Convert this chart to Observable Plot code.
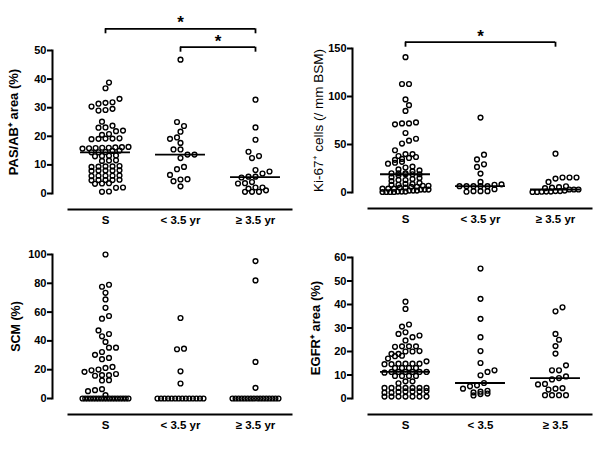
<!DOCTYPE html>
<html><head><meta charset="utf-8">
<script src="https://cdn.jsdelivr.net/npm/d3@7"></script>
<script src="https://cdn.jsdelivr.net/npm/@observablehq/plot@0.6"></script>
<style>
body{margin:0;background:#fff}
#grid{display:grid;grid-template-columns:300px 300px;width:600px;height:450px;background:#fff}
#grid svg{display:block;background:transparent;overflow:visible}
</style>
</head><body><div id="grid"></div>
<script>
// ---------- categories & ticks ----------
const groupsYr = ["S", "< 3.5 yr", "≥ 3.5 yr"];
const groupsEgfr = ["S", "< 3.5", "≥ 3.5"];
const pasTicks = [0, 10, 20, 30, 40, 50];
const ki67Ticks = [0, 50, 100, 150];
const scmTicks = [0, 20, 40, 60, 80, 100];
const egfrTicks = [0, 10, 20, 30, 40, 50, 60];

// ---------- PAS/AB+ area (%) ----------
const pasS = [38.8, 36.8, 33.1, 31.9, 31.7, 31.4, 30.4, 29.6, 29.2, 29.0, 25.1, 23.7, 23.1, 23.0, 22.0, 21.8, 20.8, 20.5,
  19.3, 19.2, 19.1, 19.0, 19.2, 16.3, 16.2, 16.0, 16.1, 15.9, 15.8, 16.0, 15.7, 15.0, 14.9, 14.5, 14.4, 14.4,
  13.2, 13.0, 13.1, 13.3, 11.6, 11.5, 11.4, 9.6, 9.5, 9.4, 9.3, 9.5, 8.0, 8.1, 7.9, 8.0, 8.0, 6.2, 6.3, 6.1, 6.2, 6.2,
  4.7, 4.8, 4.6, 4.7, 4.7, 3.5, 3.6, 3.4, 2.1, 2.0, 0.7, 0.6];
const pasYoung = [46.8, 25.0, 23.6, 21.6, 19.6, 19.1, 17.7, 15.4, 15.4, 13.6, 13.6, 12.4, 9.3, 8.5, 6.5, 5.0, 4.9, 4.3, 2.5];
const pasOld = [32.8, 23.1, 18.8, 14.6, 13.1, 12.4, 8.2, 7.7, 7.0, 5.9, 5.9, 5.6, 4.0, 3.6, 3.5, 2.1, 1.7, 0.6, 0.6, 0.6, 1.1, 2.1];

// ---------- Ki-67+ cells (/ mm BSM) ----------
const ki67S = [141, 113, 113, 97, 91, 85, 73, 72, 72, 71, 62, 56, 54, 51, 44, 40, 40, 38, 37, 36,
  35, 34, 32, 31, 30, 27, 26, 24, 23, 22, 20, 20, 20, 19, 19, 19, 18, 16, 15, 14,
  13, 13, 12, 10, 9, 9, 8, 8, 7, 7, 6, 6, 5, 5, 4, 4, 4, 3, 3, 3, 2, 2, 2, 1, 1, 1, 0.5, 0.5, 0.5, 0.5];
const ki67Young = [78, 39.4, 34.5, 29.4, 26.6, 19.7, 11, 8.5, 8, 6.6, 6.6, 6.6, 6.6, 6.6, 3.4, 1.4, 1.4, 1.4, 0.8];
const ki67Old = [40.4, 15.6, 15.6, 14.5, 15.6, 11, 6.5, 5.5, 5, 4.5, 3.1, 3.1, 3.1, 2, 1.5, 1.5, 1, 1, 0.8, 0.5, 0.5];

// ---------- SCM (%) ----------
const scmS = [100, 79, 77.6, 73.4, 68.8, 63, 57.3, 55.4, 47.3, 44.8, 43.2, 39.3, 35.3, 35.3, 32.3, 30.3, 28.2, 27.3,
  21.9, 21.2, 20.1, 19.6, 18.5, 17, 16.2, 16.2, 15.8, 12.7, 12.5, 6.5, 5.8, 5.1, 2.3,
  0, 0, 0, 0, 0, 0, 0, 0, 0, 0, 0, 0, 0, 0, 0, 0, 0, 0];
const scmYoung = [55.9, 34.6, 34.2, 18.9, 10.4, 0, 0, 0, 0, 0, 0, 0, 0, 0, 0, 0, 0, 0, 0];
const scmOld = [95.4, 82, 25.4, 7.4, 0, 0, 0, 0, 0, 0, 0, 0, 0, 0, 0, 0, 0, 0, 0, 0];

// ---------- EGFR+ area (%) ----------
const egfrS = [41.2, 38.1, 31.5, 30.6, 28.2, 27.5, 26.8, 26.1, 24.7, 22.2, 22.2, 22.2, 22.0, 20.2, 20.0, 20.0, 19.0, 19.0, 18.2, 18.0,
  17.0, 15.8, 14.8, 14.8, 14.8, 14.6, 14.6, 14.8, 13.0, 13.0, 13.0, 13.0, 11.3, 11.3, 11.3, 11.3, 11.3, 11.3, 11.0, 9.6,
  9.6, 9.6, 9.6, 7.3, 7.3, 6.5, 4.5, 4.5, 4.5, 4.5, 4.5, 4.5, 4.5, 3.2, 3.0, 3.0, 2.8, 3.0, 2.5, 2.5,
  0.8, 0.8, 0.8, 0.8, 0.8, 0.8, 0.8];
const egfrYoung = [55.3, 42.4, 33.9, 26.1, 20.2, 15.1, 12.0, 11.3, 9.9, 6.6, 5.2, 5.6, 4.2, 2.9, 2.1, 1.3, 1.9, 2.6, 3.3];
const egfrOld = [38.8, 37.1, 27.5, 25.0, 22.3, 19.1, 14.1, 12.0, 12.0, 9.4, 8.7, 8.1, 6.0, 6.2, 4.2, 3.8, 4.4, 1.4, 1.4, 1.4, 1.4];

// ---------- layout helpers ----------
const W = 300, H = 225, BAND = 75, ML = 52, XR = [67.5, 292.5];
const D = 7, MAXW = 46;

// GraphPad-like scatter: points in the same row are spread symmetrically
function swarm(vals, ppu) {
  const sorted = vals.map(v => ({v})).sort((a, b) => a.v - b.v);
  const rows = [];
  for (const p of sorted) {
    const last = rows[rows.length - 1];
    if (last && (p.v - last[0].v) * ppu < 3) last.push(p); else rows.push([p]);
  }
  const placed = [];
  for (const row of rows) {
    const n = row.length;
    const sp = n > 1 ? Math.min(D, MAXW / (n - 1)) : 0;
    const base = row.map((p, k) => (k - (n - 1) / 2) * sp);
    const half = (n - 1) * sp / 2;
    const shifts = [0, D / 2, -D / 2, D, -D, 1.5 * D, -1.5 * D, 2 * D, -2 * D, 2.5 * D, -2.5 * D, 3 * D, -3 * D];
    let chosen = 0;
    for (const s of shifts) {
      if (Math.abs(s) + half > MAXW / 2 + 0.01) continue;
      const ok = row.every((p, k) => placed.every(q => {
        const dx = base[k] + s - q.off, dy = (p.v - q.v) * ppu;
        return dx * dx + dy * dy >= (D * 0.92) ** 2;
      }));
      if (ok) { chosen = s; break; }
    }
    row.forEach((p, k) => placed.push({v: p.v, off: base[k] + chosen}));
  }
  return placed;
}

const panels = [
  {groups: groupsYr, data: [pasS, pasYoung, pasOld], yMax: 50, ticks: pasTicks, median: true,
   label: "PAS/AB⁺ area (%)", labelSize: 13, labelWeight: "bold", labelDx: -39,
   mt: 50, mb: 32, sig: [{a: 0, b: 2, up: 21.7}, {a: 1, b: 2, up: 3.3}]},
  {groups: groupsYr, data: [ki67S, ki67Young, ki67Old], yMax: 150, ticks: ki67Ticks, median: true,
   label: "Ki-67⁺ cells (/ mm BSM)", labelSize: 13.5, labelWeight: "normal", labelDx: -34,
   mt: 48, mb: 33, sig: [{a: 0, b: 2, up: 6.3}]},
  {groups: groupsYr, data: [scmS, scmYoung, scmOld], yMax: 100, ticks: scmTicks, median: false,
   label: "SCM (%)", labelSize: 12.5, labelWeight: "bold", labelDx: -37,
   mt: 29, mb: 52, sig: []},
  {groups: groupsEgfr, data: [egfrS, egfrYoung, egfrOld], yMax: 60, ticks: egfrTicks, median: true,
   label: "EGFR⁺ area (%)", labelSize: 13, labelWeight: "bold", labelDx: -37,
   mt: 32, mb: 52, sig: []}
];

const grid = document.getElementById("grid");
for (const P of panels) {
  const ppu = (H - P.mt - P.mb) / P.yMax;
  const pts = [];
  P.data.forEach((vals, gi) => swarm(vals, ppu).forEach(p => pts.push({x: gi + p.off / BAND, y: p.v})));
  const meds = P.median ? P.data.map((vals, gi) => ({g: gi, m: d3.median(vals)})) : [];
  const sigRows = P.sig.map(s => ({...s, yb: P.yMax + s.up / ppu, ye: P.yMax + (s.up - 5) / ppu}));
  const sigEnds = sigRows.flatMap(s => [{x: s.a, y1: s.ye, y2: s.yb}, {x: s.b, y1: s.ye, y2: s.yb}]);
  const svg = Plot.plot({
    width: W, height: H,
    marginLeft: ML, marginRight: 8, marginTop: P.mt, marginBottom: P.mb,
    style: {fontFamily: "'Liberation Sans', Arial, sans-serif", color: "#000", background: "transparent", overflow: "visible"},
    x: {domain: [-0.5, 2.5], range: XR, axis: null},
    y: {domain: [0, P.yMax], axis: null, label: null},
    marks: [
      Plot.frame({anchor: "left", strokeWidth: 2}),
      Plot.axisY({ticks: P.ticks, tickSize: 5, tickPadding: 1, strokeWidth: 2, fontSize: 11, fontWeight: "bold", label: null}),
      Plot.ruleY([0], {x1: -0.5, x2: 2.5, dy: 16, strokeWidth: 2}),
      Plot.text(P.groups, {x: (d, i) => i, text: d => d, frameAnchor: "bottom", dy: 27, lineAnchor: "middle",
        fontSize: 11.5, fontWeight: "bold"}),
      Plot.dot(pts, {x: "x", y: "y", r: 2.4, stroke: "#000", strokeWidth: 1.4, fill: "none"}),
      Plot.ruleY(meds, {y: "m", x1: d => d.g - 0.333, x2: d => d.g + 0.333, strokeWidth: 1.8}),
      Plot.ruleY(sigRows, {y: "yb", x1: "a", x2: "b", strokeWidth: 1.8}),
      Plot.ruleX(sigEnds, {x: "x", y1: "y1", y2: "y2", strokeWidth: 1.8}),
      Plot.text(sigRows, {x: d => (d.a + d.b) / 2, y: "yb", text: () => "*", fontSize: 17, fontWeight: "bold",
        dy: -6, lineAnchor: "middle"}),
      Plot.text([P.label], {text: d => d, frameAnchor: "left", rotate: -90, dx: P.labelDx, textAnchor: "middle",
        lineAnchor: "middle", fontSize: P.labelSize, fontWeight: P.labelWeight})
    ]
  });
  grid.appendChild(svg);
}
</script></body></html>
